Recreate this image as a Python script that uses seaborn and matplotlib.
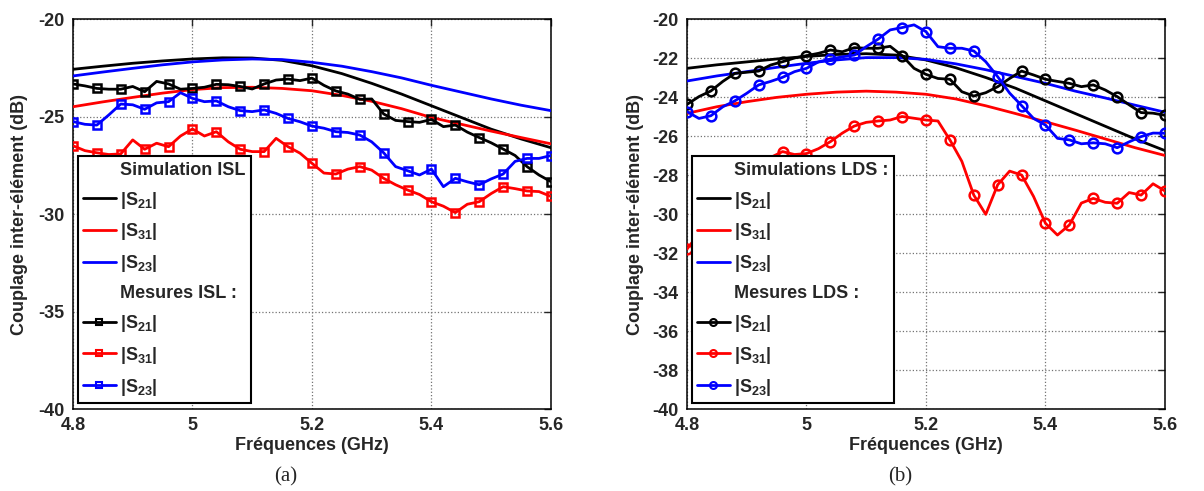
import numpy as np
import pandas as pd
import matplotlib
matplotlib.use("Agg")
import matplotlib.pyplot as plt
from matplotlib.lines import Line2D
import seaborn as sns

# -----------------------------
# Data
# -----------------------------
freq_sim = [4.80, 4.85, 4.90, 4.95, 5.00, 5.05, 5.10, 5.15, 5.20,
            5.25, 5.30, 5.35, 5.40, 5.45, 5.50, 5.55, 5.60]
freq_meas = np.round(np.arange(4.80, 5.6001, 0.02), 2)

# (a) ISL simulations
isl_sim_s21 = [-22.58, -22.42, -22.27, -22.15, -22.05, -21.99, -22.00, -22.12, -22.40,
               -22.80, -23.30, -23.85, -24.45, -25.05, -25.65, -26.15, -26.60]
isl_sim_s31 = [-24.50, -24.25, -24.02, -23.80, -23.62, -23.52, -23.50, -23.56, -23.68,
               -23.92, -24.22, -24.60, -25.05, -25.40, -25.75, -26.08, -26.40]
isl_sim_s23 = [-22.92, -22.72, -22.53, -22.35, -22.20, -22.10, -22.05, -22.08, -22.22,
               -22.42, -22.70, -23.02, -23.40, -23.75, -24.10, -24.42, -24.70]

# (a) ISL measurements
isl_meas_s21 = [-23.33, -23.43, -23.56, -23.60, -23.60, -23.46, -23.73, -23.20, -23.33, -23.60,
                -23.56, -23.50, -23.35, -23.37, -23.46, -23.59, -23.33, -23.13, -23.08, -23.16,
                -23.03, -23.40, -23.69, -23.85, -24.12, -24.10, -24.87, -25.20, -25.26, -25.30,
                -25.15, -25.52, -25.44, -25.80, -26.08, -26.35, -26.67, -27.00, -27.57, -28.00,
                -28.34]
isl_meas_s31 = [-26.50, -26.75, -26.86, -26.95, -26.92, -26.20, -26.68, -26.37, -26.55, -26.00,
                -25.64, -26.00, -25.78, -26.30, -26.68, -26.80, -26.80, -26.12, -26.55, -26.88,
                -27.40, -27.90, -27.95, -27.70, -27.57, -27.75, -28.17, -28.50, -28.77, -29.00,
                -29.37, -29.60, -29.93, -29.50, -29.37, -28.95, -28.60, -28.70, -28.82, -28.85,
                -29.10]
isl_meas_s23 = [-25.26, -25.40, -25.44, -24.92, -24.36, -24.40, -24.63, -24.30, -24.24, -23.78,
                -24.07, -24.24, -24.20, -24.50, -24.70, -24.75, -24.66, -24.84, -25.10, -25.27,
                -25.49, -25.60, -25.78, -25.82, -25.95, -26.30, -26.86, -27.57, -27.78, -28.00,
                -27.70, -28.60, -28.17, -28.35, -28.50, -28.20, -27.95, -27.30, -27.15, -27.15,
                -27.00]

# (b) LDS simulations
lds_sim_s21 = [-22.53, -22.35, -22.20, -22.05, -21.92, -21.82, -21.78, -21.85, -22.10,
               -22.50, -23.00, -23.55, -24.20, -24.85, -25.50, -26.15, -26.75]
lds_sim_s31 = [-24.84, -24.50, -24.24, -24.02, -23.86, -23.75, -23.70, -23.75, -23.86,
               -24.10, -24.45, -24.85, -25.27, -25.70, -26.15, -26.60, -27.00]
lds_sim_s23 = [-23.18, -22.92, -22.70, -22.48, -22.27, -22.10, -21.98, -21.98, -22.07,
               -22.30, -22.60, -22.95, -23.30, -23.70, -24.05, -24.42, -24.78]

# (b) LDS measurements
lds_meas_s21 = [-24.38, -23.98, -23.69, -23.20, -22.79, -22.73, -22.67, -22.36, -22.19, -22.00,
                -21.88, -21.76, -21.59, -21.68, -21.47, -21.50, -21.50, -21.40, -21.88, -22.53,
                -22.84, -23.05, -23.09, -23.73, -23.95, -23.78, -23.47, -23.05, -22.67, -22.87,
                -23.09, -23.20, -23.30, -23.47, -23.38, -23.64, -23.98, -24.40, -24.80, -24.83,
                -24.94]
lds_meas_s31 = [-31.80, -31.00, -30.00, -29.30, -28.60, -28.00, -27.40, -27.10, -26.80, -26.95,
                -26.90, -26.65, -26.29, -25.85, -25.49, -25.30, -25.23, -25.18, -25.00, -25.09,
                -25.18, -25.23, -26.20, -27.30, -29.03, -30.02, -28.50, -27.80, -28.00, -29.10,
                -30.48, -31.08, -30.56, -29.44, -29.20, -29.40, -29.45, -28.90, -29.03, -28.45,
                -28.82]
lds_meas_s23 = [-24.75, -25.10, -24.96, -24.50, -24.20, -23.81, -23.38, -23.20, -22.99, -22.70,
                -22.53, -22.20, -22.05, -21.94, -21.85, -21.42, -21.03, -20.56, -20.44, -20.30,
                -20.65, -21.42, -21.50, -21.50, -21.64, -22.19, -22.96, -23.80, -24.44, -25.10,
                -25.44, -26.12, -26.20, -26.40, -26.35, -26.40, -26.60, -26.30, -26.03, -25.85,
                -25.86]

labels = [r"|S$_{21}$|", r"|S$_{31}$|", r"|S$_{23}$|"]
colors = ["black", "red", "blue"]

# -----------------------------
# Style
# -----------------------------
sns.set_style("white")
plt.rcParams["font.family"] = ["Liberation Sans", "DejaVu Sans"]
plt.rcParams["font.weight"] = "bold"
plt.rcParams["mathtext.fontset"] = "custom"
plt.rcParams["mathtext.rm"] = "Liberation Sans:bold"
plt.rcParams["mathtext.it"] = "Liberation Sans:bold"
plt.rcParams["mathtext.bf"] = "Liberation Sans:bold"
plt.rcParams["mathtext.default"] = "rm"

FS = 13

fig = plt.figure(figsize=(12.04, 4.91), dpi=100)
ax_a = fig.add_axes([0.0606, 0.167, 0.397, 0.7943])
ax_b = fig.add_axes([0.5706, 0.167, 0.397, 0.7943])


def draw_panel(ax, sims, meas, marker, sim_title, meas_title, yticks):
    msize = 7 if marker == "o" else 5.5
    for y, c, lab in zip(sims, colors, labels):
        sns.lineplot(x=freq_sim, y=y, ax=ax, color=c, lw=2, label=lab, zorder=3)
    for y, c, lab in zip(meas, colors, labels):
        sns.lineplot(x=freq_meas, y=y, ax=ax, color=c, lw=2, label=lab,
                     marker=marker, markevery=2, markersize=msize,
                     markerfacecolor="none", markeredgecolor=c, markeredgewidth=1.8,
                     zorder=3)
    ax.set_xlim(4.8, 5.6)
    ax.set_ylim(-40, -20)
    ax.set_xticks([4.8, 5.0, 5.2, 5.4, 5.6])
    ax.set_xticklabels(["4.8", "5", "5.2", "5.4", "5.6"])
    ax.set_yticks(yticks)
    ax.set_yticklabels([str(v) for v in yticks])
    ax.grid(True, linestyle=":", color="0.45", lw=0.9)
    ax.tick_params(direction="in", length=5, top=True, right=True, labelsize=FS,
                   width=1, pad=6)
    for s in ax.spines.values():
        s.set_linewidth(1.1)
        s.set_color("black")
    ax.set_xlabel("Fréquences (GHz)", fontsize=FS, fontweight="bold", labelpad=2)
    ax.set_ylabel("")

    blank = Line2D([], [], linestyle="none")
    sim_h = [Line2D([], [], color=c, lw=2) for c in colors]
    meas_h = [Line2D([], [], color=c, lw=2, marker=marker, markersize=5,
                     markerfacecolor="none", markeredgecolor=c, markeredgewidth=1.5)
              for c in colors]
    handles = [blank] + sim_h + [blank] + meas_h
    texts = [sim_title] + labels + [meas_title] + labels
    leg = ax.legend(handles, texts, loc="upper left", bbox_to_anchor=(0.0098, 0.648),
                    borderaxespad=0, fancybox=False, framealpha=1, edgecolor="black",
                    handlelength=1.8, handletextpad=0.25, labelspacing=0.6,
                    borderpad=0.3, prop={"size": FS, "weight": "bold"})
    leg.get_frame().set_linewidth(1.5)
    leg.set_zorder(5)


draw_panel(ax_a, [isl_sim_s21, isl_sim_s31, isl_sim_s23],
           [isl_meas_s21, isl_meas_s31, isl_meas_s23], "s",
           "Simulation ISL", "Mesures ISL :", [-40, -35, -30, -25, -20])
draw_panel(ax_b, [lds_sim_s21, lds_sim_s31, lds_sim_s23],
           [lds_meas_s21, lds_meas_s31, lds_meas_s23], "o",
           "Simulations LDS :", "Mesures LDS :", list(range(-40, -19, 2)))

ylab = "Couplage inter-élément (dB)"
fig.text(20 / 1204, 0.564, ylab, rotation=90, ha="center", va="center",
         fontsize=FS, fontweight="bold")
fig.text(635 / 1204, 0.564, ylab, rotation=90, ha="center", va="center",
         fontsize=FS, fontweight="bold")
fig.text(286 / 1204, 1 - 477 / 491, "(a)", ha="center", va="center",
         fontsize=15, family="Liberation Serif", fontweight="normal")
fig.text(900 / 1204, 1 - 477 / 491, "(b)", ha="center", va="center",
         fontsize=15, family="Liberation Serif", fontweight="normal")

fig.savefig("out.png", dpi=100)
